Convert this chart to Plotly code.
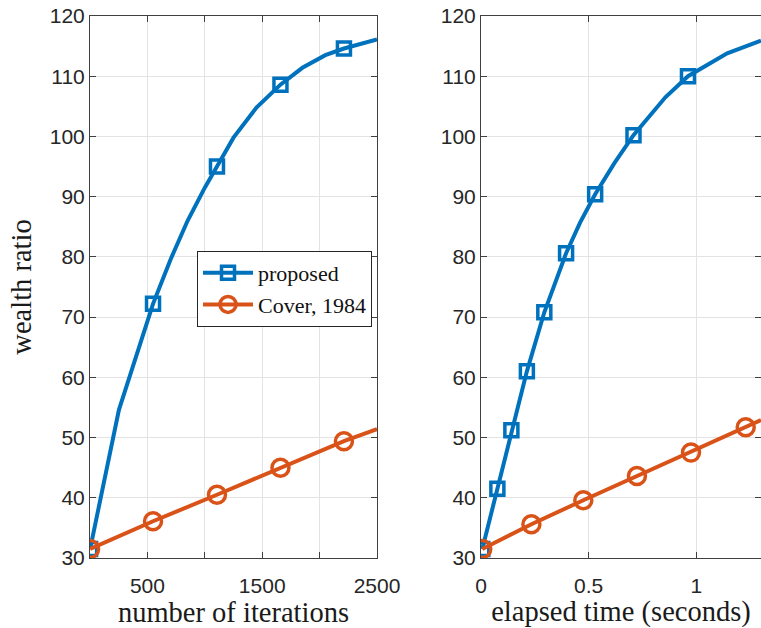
import plotly.graph_objects as go

# ---- data ----
prop_iter_x = [1, 252, 549, 700, 850, 1000, 1106, 1250, 1450, 1659, 1850, 2050, 2212, 2500]
prop_iter_y = [31.5, 54.6, 72.2, 79.5, 86.0, 91.5, 95.0, 99.8, 104.8, 108.6, 111.4, 113.5, 114.6, 116.1]
prop_iter_mark = [0, 2, 6, 9, 12]

cover_iter_x = [1, 549, 1106, 1659, 2212, 2500]
cover_iter_y = [31.5, 36.1, 40.5, 45.0, 49.4, 51.4]
cover_iter_mark = [0, 1, 2, 3, 4]

prop_time_x = [0.006, 0.076, 0.141, 0.213, 0.294, 0.395, 0.46, 0.530, 0.62, 0.708, 0.856, 0.961, 1.143, 1.3]
prop_time_y = [31.5, 41.5, 51.2, 61.0, 70.8, 80.6, 85.7, 90.4, 95.6, 100.2, 106.5, 110.0, 113.8, 115.9]
prop_time_mark = [0, 1, 2, 3, 4, 5, 7, 9, 11]

cover_time_x = [0.006, 0.234, 0.475, 0.724, 0.975, 1.229, 1.3]
cover_time_y = [31.5, 35.6, 39.6, 43.6, 47.5, 51.7, 52.9]
cover_time_mark = [0, 1, 2, 3, 4, 5]

series_names = ["proposed", "Cover, 1984"]
y_ticks = [30, 40, 50, 60, 70, 80, 90, 100, 110, 120]
iter_ticks = [0, 500, 1000, 1500, 2000, 2500]
iter_ticklabels = ["", "500", "", "1500", "", "2500"]
time_ticks = [0, 0.5, 1]
time_ticklabels = ["0", "0.5", "1"]

BLUE = "#0072BD"
ORANGE = "#D95319"
LW = 4

fig = go.Figure()

def add_series(x, y, marks, color, symbol, msize, xa, ya):
    fig.add_trace(go.Scatter(x=x, y=y, mode="lines", line=dict(color=color, width=LW),
                             xaxis=xa, yaxis=ya, showlegend=False, hoverinfo="skip"))
    fig.add_trace(go.Scatter(x=[x[i] for i in marks], y=[y[i] for i in marks], mode="markers",
                             marker=dict(symbol=symbol, size=msize, color=color,
                                         line=dict(color=color, width=3.5)),
                             xaxis=xa, yaxis=ya, showlegend=False))

add_series(prop_iter_x, prop_iter_y, prop_iter_mark, BLUE, "square-open", 13, "x", "y")
add_series(cover_iter_x, cover_iter_y, cover_iter_mark, ORANGE, "circle-open", 17, "x", "y")
add_series(prop_time_x, prop_time_y, prop_time_mark, BLUE, "square-open", 13, "x2", "y2")
add_series(cover_time_x, cover_time_y, cover_time_mark, ORANGE, "circle-open", 17, "x2", "y2")

# legend entries
for name, color, symbol, msize in [(series_names[0], BLUE, "square-open", 13),
                                   (series_names[1], ORANGE, "circle-open", 17)]:
    fig.add_trace(go.Scatter(x=[None], y=[None], mode="lines+markers", name=name,
                             line=dict(color=color, width=LW),
                             marker=dict(symbol=symbol, size=msize, color=color,
                                         line=dict(color=color, width=3.5)),
                             xaxis="x", yaxis="y"))

W, H = 761, 628
T, B = 16, 70
AX = "#404040"
GRID = "#e3e3e3"
SERIF = "Liberation Serif"
tickfont = dict(family="Liberation Sans", size=21, color="#262626")
titlefont = dict(family=SERIF, size=28.5, color="#1a1a1a")

common_axis = dict(showline=True, linecolor=AX, linewidth=1, mirror="ticks", ticks="inside",
                   ticklen=6, tickcolor=AX, showgrid=True, gridcolor=GRID, gridwidth=1,
                   zeroline=False, tickfont=tickfont, automargin=False)

fig.update_layout(
    width=W, height=H,
    font=dict(family=SERIF, size=22, color="#1a1a1a"),
    margin=dict(l=0, r=0, t=T, b=B),
    paper_bgcolor="white", plot_bgcolor="white",
    xaxis=dict(domain=[90 / W, 377 / W], range=[0, 2500], tickmode="array",
               tickvals=iter_ticks, ticktext=iter_ticklabels, ticklabelstandoff=9,
               title=dict(text="number of iterations", font=titlefont, standoff=4),
               anchor="y", **common_axis),
    yaxis=dict(domain=[0, 1], range=[30, 120], tickmode="array", tickvals=y_ticks,
               title=dict(text="wealth ratio", font=titlefont, standoff=9),
               anchor="x", **common_axis),
    xaxis2=dict(domain=[481 / W, 1.0], range=[0, 1.3], tickmode="array",
                tickvals=time_ticks, ticktext=time_ticklabels, ticklabelstandoff=9,
                title=dict(text="elapsed time (seconds)", font=titlefont, standoff=4),
                anchor="y2", **common_axis),
    yaxis2=dict(domain=[0, 1], range=[30, 120], tickmode="array", tickvals=y_ticks,
                anchor="x2", **common_axis),
    legend=dict(x=197 / W, y=1 - (251 - T) / (H - T - B), xanchor="left", yanchor="top",
                bgcolor="white", bordercolor="#262626", borderwidth=1,
                font=dict(family=SERIF, size=22, color="#111"),
                tracegroupgap=0, itemwidth=50),
    showlegend=True,
)

fig.write_html("out.html")
